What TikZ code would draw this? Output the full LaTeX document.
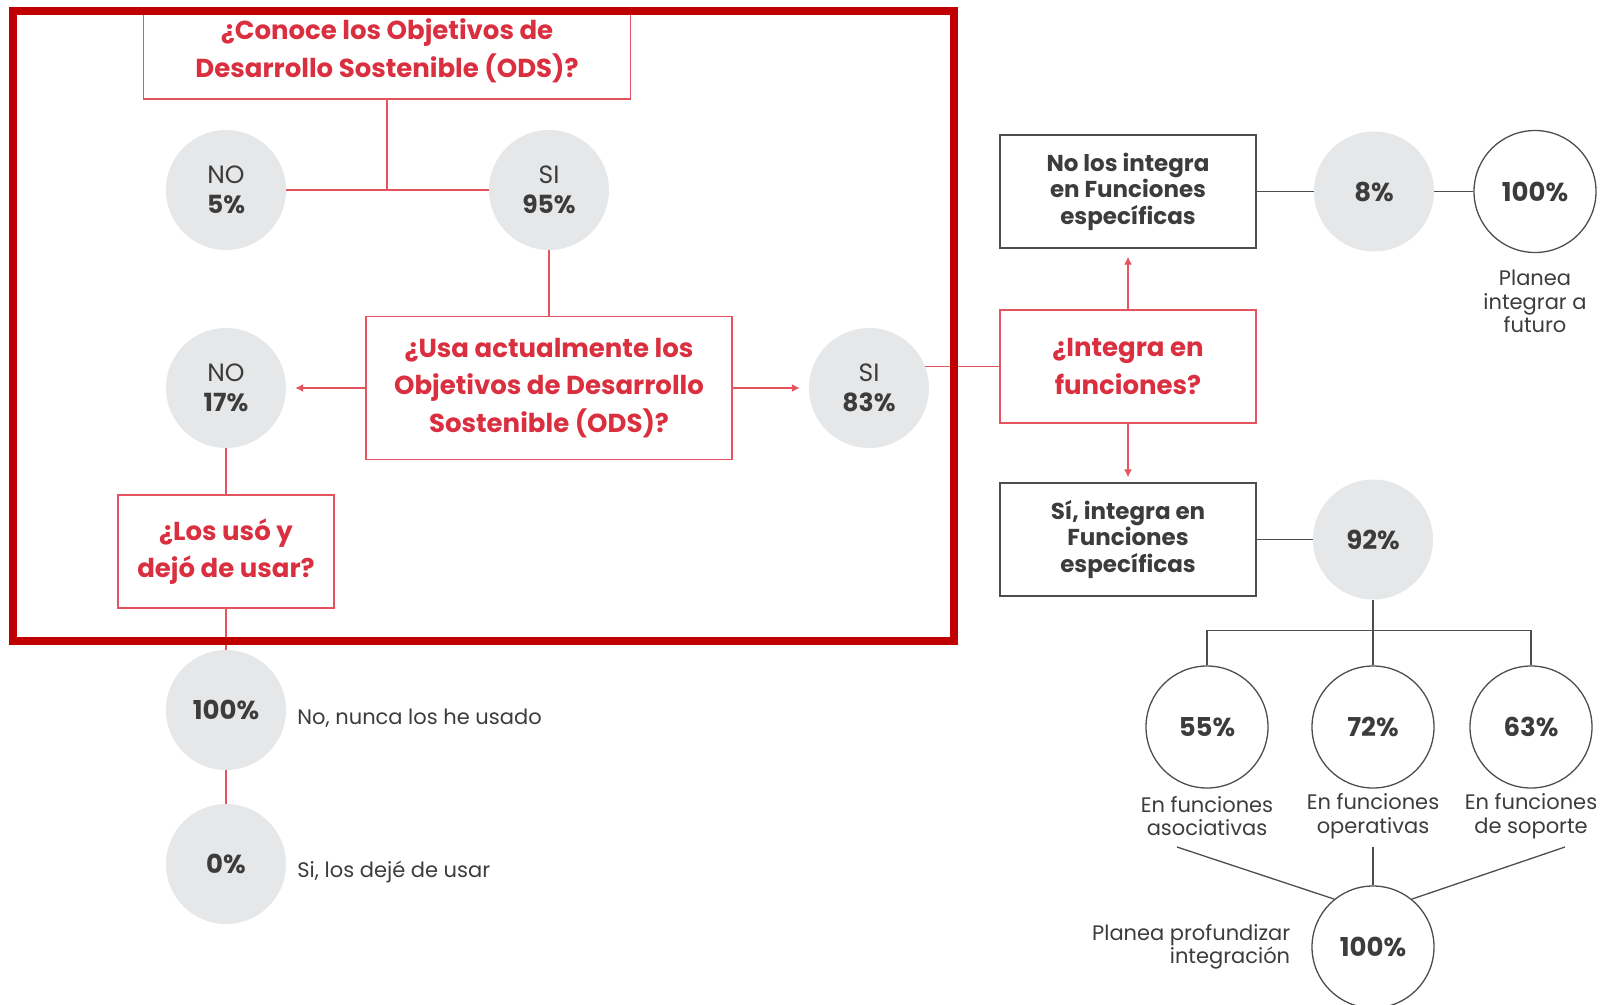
\documentclass[tikz,border=0pt]{standalone}
\usepackage{fontspec}
\setmainfont{Poppins}
\usetikzlibrary{positioning,arrows.meta}
\definecolor{odsred}{HTML}{D92F3F}
\definecolor{odsline}{HTML}{E5545E}
\definecolor{framered}{HTML}{C00000}
\definecolor{circgray}{HTML}{E6E7E8}
\definecolor{txtgray}{HTML}{3C3C3C}
\definecolor{boxgray}{HTML}{4D4D4D}

\begin{document}
\begin{tikzpicture}[x=1pt, y=-1pt, >={Latex[length=8pt,width=8pt]},
    qbox/.style={rectangle, draw=odsline, line width=1.3pt, align=center, text=odsred, font=\fontsize{26}{37.5}\selectfont\bfseries},
    dbox/.style={rectangle, draw=boxgray, line width=1.3pt, align=center, text=txtgray, font=\fontsize{23}{26.5}\selectfont\bfseries, minimum width=256pt, minimum height=113pt},
    gdot/.style={circle, fill=circgray, minimum size=120pt, inner sep=0pt, align=center, text=txtgray, font=\fontsize{25}{30}\selectfont},
    odot/.style={circle, draw=boxgray, line width=1.3pt, minimum size=122pt, inner sep=0pt, text=txtgray, font=\fontsize{26}{30}\selectfont\bfseries},
    lbl/.style={text=txtgray, font=\fontsize{21}{23.5}\selectfont, align=center, inner sep=0pt},
    rline/.style={draw=odsline, line width=1.3pt},
    kline/.style={draw=boxgray, line width=1.3pt}]
    \useasboundingbox (0,0) rectangle (1602,1004);

    \node[qbox, minimum width=487pt, minimum height=90pt, text depth=12pt] (conoce) at (387,54) {¿Conoce los Objetivos de\\Desarrollo Sostenible (ODS)?};
    \node[gdot] (no5) at (226,190) {NO\\\textbf{5\%}};
    \node[gdot, right of=no5, node distance=323pt] (si95) {SI\\\textbf{95\%}};
    \node[qbox, below of=si95, node distance=198pt, minimum width=366pt, minimum height=143pt] (usa) {¿Usa actualmente los\\Objetivos de Desarrollo\\Sostenible (ODS)?};
    \node[gdot, left of=usa, node distance=323pt] (no17) {NO\\\textbf{17\%}};
    \node[gdot, right of=usa, node distance=320pt] (si83) {SI\\\textbf{83\%}};
    \node[qbox, below of=no17, node distance=163.5pt, minimum width=216pt, minimum height=113pt] (los) {¿Los usó y\\dejó de usar?};
    \node[gdot, below of=los, node distance=158.5pt, font=\fontsize{26}{30}\selectfont\bfseries] (nunca) {100\%};
    \node[gdot, below of=nunca, node distance=154pt, font=\fontsize{26}{30}\selectfont\bfseries] (dejo) {0\%};
    \node[lbl, anchor=west, yshift=-8pt] (nuncatxt) at ([xshift=11pt]nunca.east) {No, nunca los he usado};
    \node[lbl, anchor=west, yshift=-8pt] (dejotxt) at ([xshift=11pt]dejo.east) {Si, los dejé de usar};

    \node[qbox, minimum width=256pt, minimum height=113pt] (integra) at (1128,366.5) {¿Integra en\\funciones?};
    \node[dbox, above of=integra, node distance=175pt] (nolos) {No los integra\\en Funciones\\específicas};
    \node[dbox, below of=integra, node distance=173pt] (sies) {Sí, integra en\\Funciones\\específicas};
    \node[gdot, right of=nolos, node distance=246pt, font=\fontsize{26}{30}\selectfont\bfseries] (c8) {8\%};
    \node[odot, right of=c8, node distance=161pt] (futuro) {100\%};
    \node[lbl, below of=futuro, node distance=110pt] (futurotxt) {Planea\\integrar a\\futuro};
    \node[gdot, right of=sies, node distance=245pt, font=\fontsize{26}{30}\selectfont\bfseries] (c92) {92\%};
    \node[odot, below of=c92, node distance=187.5pt] (c72) {72\%};
    \node[odot, left of=c72, node distance=166pt] (c55) {55\%};
    \node[odot, right of=c72, node distance=158pt] (c63) {63\%};
    \node[lbl, below of=c55, node distance=89pt] (c55txt) {En funciones\\asociativas};
    \node[lbl, below of=c72, node distance=89pt] (c72txt) {En funciones\\operativas};
    \node[lbl, below of=c63, node distance=89pt] (c63txt) {En funciones\\de soporte};
    \node[odot, below of=c72, node distance=220pt] (profundo) {100\%};
    \node[lbl, align=right, left=21pt of profundo, yshift=0pt] (profundotxt) {Planea profundizar\\integración};
    \coordinate[below of=c92, node distance=91pt] (fork);
    \coordinate (t55) at (1177,847);
    \coordinate (t72) at (1373,847);
    \coordinate (t63) at (1565,847);

    \draw[rline] (conoce.south) -- (conoce.south |- no5.east);
    \draw[rline] (no5) -- (si95);
    \draw[rline] (si95) -- (usa);
    \draw[rline, ->, shorten >=9pt] (usa) -- (no17);
    \draw[rline, ->, shorten >=9pt] (usa) -- (si83);
    \draw[rline] (no17) -- (los);
    \draw[rline] (los) -- (nunca);
    \draw[rline] (nunca) -- (dejo);
    \draw[rline] (si83.21) -- (si83.21 -| integra.west);
    \draw[rline, ->, shorten >=8pt] (integra) -- (nolos);
    \draw[rline, ->, shorten >=5pt] (integra) -- (sies);

    \draw[kline] (nolos) -- (c8);
    \draw[kline] (c8) -- (futuro);
    \draw[kline] (sies) -- (c92);
    \draw[kline] (c92) -- (c72);
    \draw[kline] (c55.north) |- (fork) -| (c63.north);
    \draw[kline] (t55) -- (profundo.129);
    \draw[kline] (t72) -- (profundo.north);
    \draw[kline] (t63) -- (profundo.51);

    \draw[framered, line width=8pt] (13,11) rectangle (954,641);
\end{tikzpicture}
\end{document}
